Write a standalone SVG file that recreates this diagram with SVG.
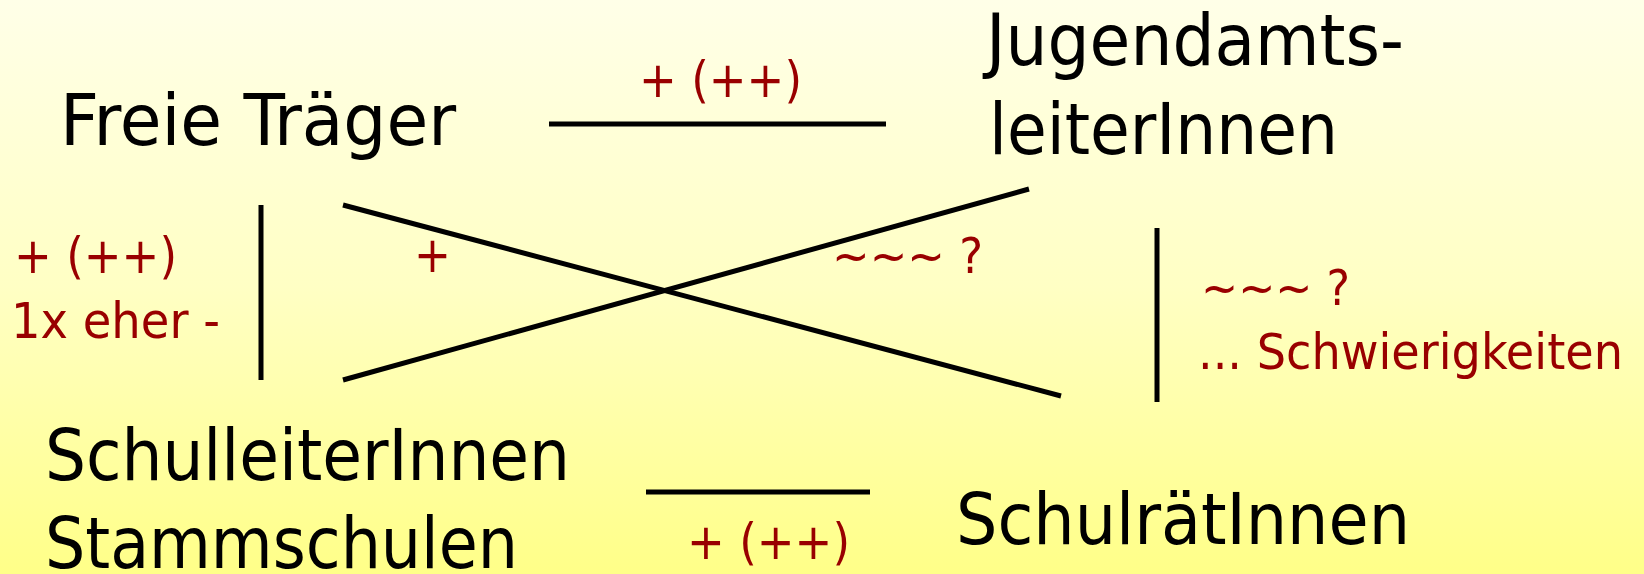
<svg xmlns="http://www.w3.org/2000/svg" width="1644" height="574" viewBox="0 0 1644 574">
<style>
.n{font-family:"DejaVu Sans Condensed","DejaVu Sans",sans-serif;font-size:72px;fill:#000}
.l{font-family:"DejaVu Sans Condensed","DejaVu Sans",sans-serif;font-size:49px;fill:#990000}
.c{stroke:#000;stroke-width:5;fill:none}
</style>
<defs>
<linearGradient id="bg" x1="0" y1="0" x2="0" y2="1">
<stop offset="0" stop-color="#FFFFE8"/>
<stop offset="0.5" stop-color="#FFFFC4"/>
<stop offset="1" stop-color="#FFFF88"/>
</linearGradient>
</defs>
<rect width="1644" height="574" fill="url(#bg)"/>
<g id="connectors">
<line class="c" x1="549" y1="124" x2="886" y2="124"/>
<line class="c" x1="261" y1="205" x2="261" y2="380"/>
<line class="c" x1="343" y1="205" x2="1061" y2="396"/>
<line class="c" x1="343" y1="380" x2="1029" y2="189"/>
<line class="c" x1="1157" y1="228" x2="1157" y2="402"/>
<line class="c" x1="646" y1="492" x2="870" y2="492"/>
</g>
<g id="labels">
<text class="l" x="639" y="97" textLength="163" lengthAdjust="spacingAndGlyphs">+ (++)</text>
<text class="l" x="14" y="273" textLength="163" lengthAdjust="spacingAndGlyphs">+ (++)</text>
<text class="l" x="11" y="338" textLength="209" lengthAdjust="spacingAndGlyphs">1x eher -</text>
<text class="l" x="414" y="272">+</text>
<text class="l" x="832" y="273" textLength="151" lengthAdjust="spacingAndGlyphs">~~~ ?</text>
<text class="l" x="1201" y="305" textLength="149" lengthAdjust="spacingAndGlyphs">~~~ ?</text>
<text class="l" x="1198" y="369" textLength="425" lengthAdjust="spacingAndGlyphs">... Schwierigkeiten</text>
<text class="l" x="687" y="559" textLength="163" lengthAdjust="spacingAndGlyphs">+ (++)</text>
</g>
<g id="freie-traeger">
<text class="n" x="60" y="145" textLength="396" lengthAdjust="spacingAndGlyphs">Freie Träger</text>
</g>
<g id="jugendamtsleiter">
<text class="n" x="986" y="65" textLength="418" lengthAdjust="spacingAndGlyphs">Jugendamts-</text>
<text class="n" x="989" y="154" textLength="349" lengthAdjust="spacingAndGlyphs">leiterInnen</text>
</g>
<g id="schulleiter">
<text class="n" x="45" y="480" textLength="525" lengthAdjust="spacingAndGlyphs">SchulleiterInnen</text>
<text class="n" x="45" y="568" textLength="473" lengthAdjust="spacingAndGlyphs">Stammschulen</text>
</g>
<g id="schulraete">
<text class="n" x="956" y="544" textLength="454" lengthAdjust="spacingAndGlyphs">SchulrätInnen</text>
</g>
</svg>
